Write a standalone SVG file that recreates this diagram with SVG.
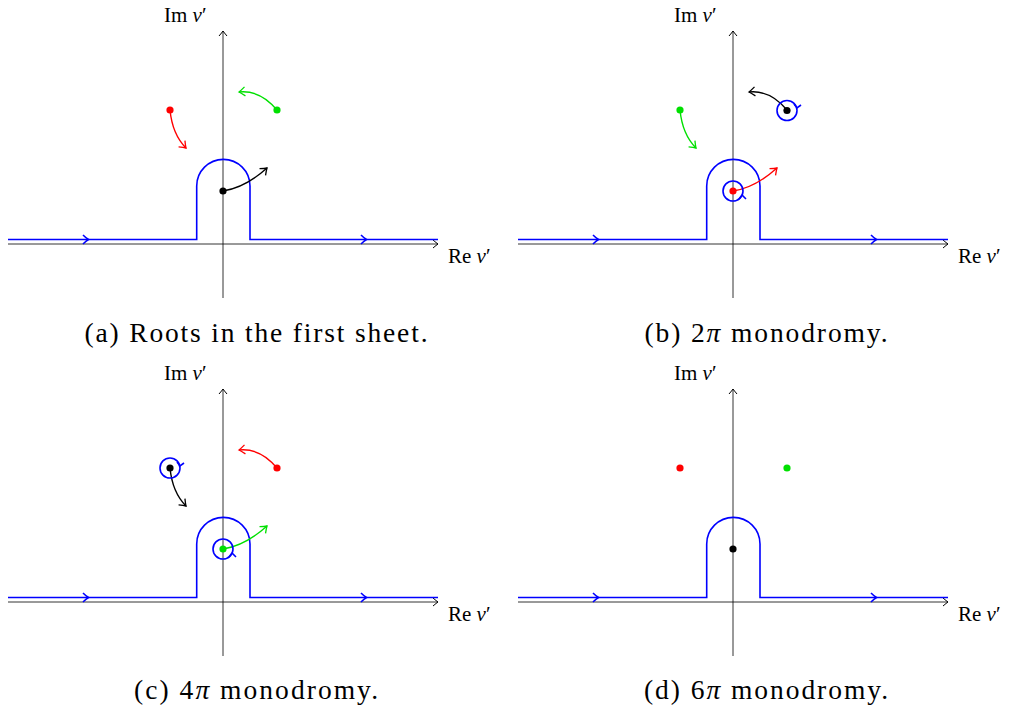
<svg xmlns="http://www.w3.org/2000/svg" xmlns:xlink="http://www.w3.org/1999/xlink" width="1011" height="708" viewBox="0 0 1011 708">
<style>
.axis{stroke:#000;stroke-width:0.8;fill:none}
.contour{stroke:#0000ff;stroke-width:1.6;fill:none}
.loop{stroke:#0000ff;stroke-width:1.6;fill:none}
.arr{stroke-width:1.4;fill:none}
.lbl{font-family:"Liberation Serif","DejaVu Serif",serif;font-size:21px;fill:#000}
.cap{font-family:"Liberation Serif","DejaVu Serif",serif;font-size:27.5px;fill:#000;text-anchor:middle}
.r{stroke:#ff0000}.g{stroke:#00e000}.k{stroke:#000}
</style>
<defs>
<marker id="mk" markerUnits="userSpaceOnUse" markerWidth="12" markerHeight="12" viewBox="-8 -6 10 12" refX="0" refY="0" orient="auto"><path d="M-5,-4 Q-1.5,-1 0,0 Q-1.5,1 -5,4" fill="none" stroke="#000" stroke-width="1"/></marker>
<marker id="mr" markerUnits="userSpaceOnUse" markerWidth="12" markerHeight="12" viewBox="-8 -6 10 12" refX="0" refY="0" orient="auto"><path d="M-6,-4.5 Q-2,-1.2 0,0 Q-2,1.2 -6,4.5" fill="none" stroke="#ff0000" stroke-width="1.3"/></marker>
<marker id="mg" markerUnits="userSpaceOnUse" markerWidth="12" markerHeight="12" viewBox="-8 -6 10 12" refX="0" refY="0" orient="auto"><path d="M-6,-4.5 Q-2,-1.2 0,0 Q-2,1.2 -6,4.5" fill="none" stroke="#00e000" stroke-width="1.3"/></marker>
<marker id="mb" markerUnits="userSpaceOnUse" markerWidth="12" markerHeight="12" viewBox="-8 -6 10 12" refX="0" refY="0" orient="auto"><path d="M-6,-4.5 Q-2,-1.2 0,0 Q-2,1.2 -6,4.5" fill="none" stroke="#000" stroke-width="1.3"/></marker>
<g id="frame">
<line class="axis" x1="8" y1="244" x2="438" y2="244" marker-end="url(#mk)"/>
<line class="axis" x1="223" y1="298" x2="223" y2="31" marker-end="url(#mk)"/>
<path class="contour" d="M8,239.5 H196.7 V186 A26.65,26.65 0 0 1 250,186 V239.5 H438"/>
<path class="contour" d="M83,235 Q86,238 88.5,239.5 Q86,241 83,244" stroke-width="1.3"/>
<path class="contour" d="M361,235 Q364,238 366.5,239.5 Q364,241 361,244" stroke-width="1.3"/>
<text class="lbl" x="164" y="22">Im <tspan font-style="italic">ν</tspan>′</text>
<text class="lbl" x="448" y="263">Re <tspan font-style="italic">ν</tspan>′</text>
</g>
</defs>

<g id="panel-a">
<use xlink:href="#frame"/>
<g id="connectors-a">
<path class="arr r" d="M170,110 Q172.4,134.4 186,148" marker-end="url(#mr)"/>
<path class="arr g" d="M277,110 Q260.2,89.8 239,92" marker-end="url(#mg)"/>
<path class="arr k" d="M223,191 Q245.1,187.7 267,168" marker-end="url(#mb)"/>
</g>
<g id="a-red"><circle cx="170" cy="110" r="3.6" fill="#ff0000"/></g>
<g id="a-green"><circle cx="277" cy="110" r="3.6" fill="#00e000"/></g>
<g id="a-black"><circle cx="223" cy="191" r="3.6" fill="#000"/></g>
<text class="cap" x="256" y="342" textLength="343" lengthAdjust="spacing">(a) Roots in the first sheet.</text>
</g>

<g id="panel-b" transform="translate(510,0)">
<use xlink:href="#frame"/>
<g id="connectors-b">
<path class="arr g" d="M170,110 Q172.4,134.4 186,148" marker-end="url(#mg)"/>
<path class="arr k" d="M277,110 Q260.2,89.8 239,92" marker-end="url(#mb)"/>
<path class="arr r" d="M223,191 Q245.1,187.7 267,168" marker-end="url(#mr)"/>
<circle class="loop" cx="277" cy="110.5" r="10"/>
<path class="loop" d="M284,104 L287,108 L291,105" stroke-width="1.3"/>
<circle class="loop" cx="223" cy="191" r="10"/>
<path class="loop" d="M229,199 L232,195 L236,199" stroke-width="1.3"/>
</g>
<g id="b-green"><circle cx="170" cy="110" r="3.6" fill="#00e000"/></g>
<g id="b-black"><circle cx="277" cy="110.5" r="3.6" fill="#000"/></g>
<g id="b-red"><circle cx="223" cy="191" r="3.6" fill="#ff0000"/></g>
<text class="cap" x="256" y="342" textLength="243" lengthAdjust="spacing">(b) 2<tspan font-style="italic">π</tspan> monodromy.</text>
</g>

<g id="panel-c" transform="translate(0,358)">
<use xlink:href="#frame"/>
<g id="connectors-c">
<path class="arr k" d="M170,110 Q172.4,134.4 186,148" marker-end="url(#mb)"/>
<path class="arr r" d="M277,110 Q260.2,89.8 239,92" marker-end="url(#mr)"/>
<path class="arr g" d="M223,191 Q245.1,187.7 267,168" marker-end="url(#mg)"/>
<circle class="loop" cx="170" cy="110" r="10"/>
<path class="loop" d="M177,104 L180,108 L184,105" stroke-width="1.3"/>
<circle class="loop" cx="223" cy="191" r="10"/>
<path class="loop" d="M229,199 L232,195 L236,199" stroke-width="1.3"/>
</g>
<g id="c-black"><circle cx="170" cy="110" r="3.6" fill="#000"/></g>
<g id="c-red"><circle cx="277" cy="110" r="3.6" fill="#ff0000"/></g>
<g id="c-green"><circle cx="223" cy="191" r="3.6" fill="#00e000"/></g>
<text class="cap" x="256" y="341" textLength="244" lengthAdjust="spacing">(c) 4<tspan font-style="italic">π</tspan> monodromy.</text>
</g>

<g id="panel-d" transform="translate(510,358)">
<use xlink:href="#frame"/>
<g id="d-red"><circle cx="170" cy="110" r="3.6" fill="#ff0000"/></g>
<g id="d-green"><circle cx="277" cy="110" r="3.6" fill="#00e000"/></g>
<g id="d-black"><circle cx="223" cy="191" r="3.6" fill="#000"/></g>
<text class="cap" x="256" y="341" textLength="244" lengthAdjust="spacing">(d) 6<tspan font-style="italic">π</tspan> monodromy.</text>
</g>
</svg>
